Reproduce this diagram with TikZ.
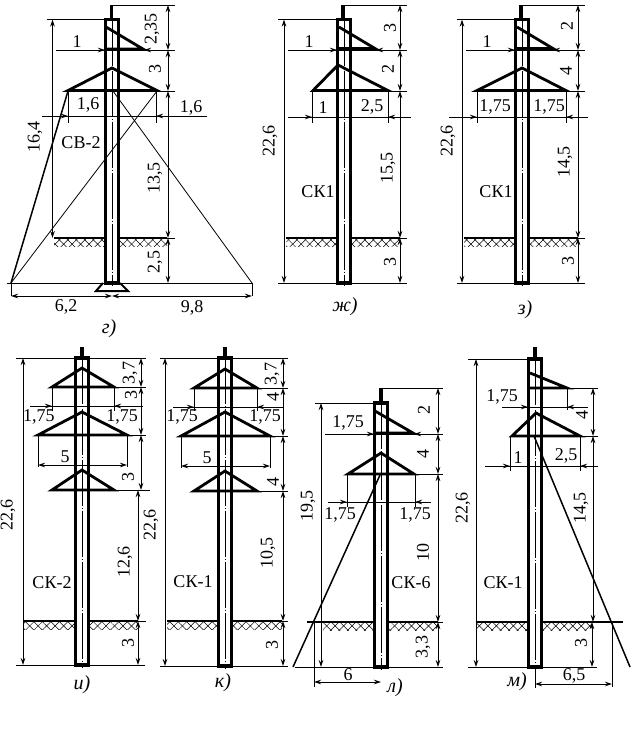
\documentclass[tikz,border=0pt]{standalone}
\usepackage{fontspec}
\setmainfont{Liberation Serif}
\usetikzlibrary{arrows.meta,patterns.meta}
\tikzset{
every picture/.style={
line width=.8pt
}}
\newcommand{\mast}[3]{
  \draw [body] ({#1-6.5},#2) rectangle ({#1+6.5},#3);
  \draw [axis] (#1,#2) -- (#1,{#3+3});
}
\newcommand{\hatch}[3]{
  \fill [pattern={Lines[angle=45,distance=6pt,line width=.5pt]}] (#1,#3) rectangle (#2,{#3+8});
  \fill [pattern={Lines[angle=-45,distance=6pt,line width=.5pt]}] (#1,#3) rectangle (#2,{#3+8});
}

\begin{document}
\begin{tikzpicture}[x=1pt, y=-1pt,
body/.style = {line width=3.2pt},
arm/.style = {line width=2.8pt, line join=miter},
gnd/.style = {line width=2pt},
guy/.style = {line width=1.5pt},
axis/.style = {line width=.5pt, dash pattern=on 46pt off 2pt on 1pt off 2pt},
dim/.style = {{Stealth[length=7pt,width=4.5pt]}-{Stealth[length=7pt,width=4.5pt]}},
tip/.style = {-{Stealth[length=7pt,width=4.5pt]}},
lab/.style = {inner sep=0pt, font=\fontsize{18}{20}\selectfont},
up/.style = {lab, rotate=90},
sign/.style = {lab, font=\fontsize{20}{22}\selectfont\itshape}]
\useasboundingbox (0,0) rectangle (637,732);

% g
\mast{112}{19.5}{283}
\draw [body] (111.5,19) -- (111.5,5);
\draw (111.5,5) -- (175,5);
\draw [arm] (106,27) -- (143,49) -- (105,49);
\draw [arm] (68,90.5) -- (112,68) -- (157,90.5) -- cycle;
\hatch{54}{105}{238}
\hatch{119}{167}{238}
\draw [gnd] (54,238) -- (105,238) (119,238) -- (167,238);
\draw (167,238) -- (175,238);
\draw [guy] (68,91) -- (11,283);
\draw (157,91) -- (11,283);
\draw (113,91) -- (252,283);
\draw (7,283) -- (252,283);
\draw [line width=2pt] (103,283) -- (96,291) -- (128,291) -- (120,283);
\draw (47,19.5) -- (105,19.5);
\draw (56,50) -- (175,50);
\draw (157,91) -- (175,91);
\draw (68,91) -- (68,123) (156,91) -- (156,123);
\draw (42,116) -- (207,116);
\draw (11,283) -- (11,296) (252,283) -- (252,296);
\foreach \a/\b in {5/50,50/91,91/238,238/283}
  \draw [dim] (168,\a) -- (168,\b);
\draw [dim] (52.5,19.5) -- (52.5,238);
\draw [dim] (11,296) -- (112,296);
\draw [dim] (112,296) -- (252,296);
\draw [tip] (93,50) -- (105,50);
\draw [tip] (156,50) -- (144,50);
\draw [tip] (55,116) -- (68,116);
\draw [tip] (170,116) -- (156,116);
\node [lab] at (77,42) (g1) {1};
\node [lab] at (88,105) (g2) {1,6};
\node [lab] at (191,108) (g3) {1,6};
\node [lab] at (81,143) (g4) {СВ-2};
\node [up] at (152,29) (g5) {2,35};
\node [up] at (155,69) (g6) {3};
\node [up] at (155,178) (g7) {13,5};
\node [up] at (155,262) (g8) {2,5};
\node [up] at (35,137) (g9) {16,4};
\node [lab] at (66,307) (g10) {6,2};
\node [lab] at (192,308) (g11) {9,8};
\node [sign] at (109,329) (g12) {г)};

% zh
\mast{344}{19.5}{283}
\draw [body] (343,19) -- (343,5);
\draw (343,5) -- (407,5);
\draw [arm] (339,27) -- (375,48.5) -- (337,48.5);
\draw [arm] (313,90.5) -- (338,65) -- (388,90.5) -- cycle;
\hatch{286}{337}{238}
\hatch{351}{400}{238}
\draw [gnd] (286,238) -- (337,238) (351,238) -- (400,238);
\draw (400,238) -- (407,238);
\draw (278,19.5) -- (337,19.5);
\draw (278,283) -- (407,283);
\draw (288,50) -- (407,50);
\draw (388,91) -- (407,91);
\draw (312,91) -- (312,123) (388,91) -- (388,123);
\draw (288,117) -- (411,117);
\foreach \a/\b in {5/50,50/91,91/238,238/283}
  \draw [dim] (400,\a) -- (400,\b);
\draw [dim] (284,19.5) -- (284,283);
\draw [tip] (325,50) -- (337,50);
\draw [tip] (388,50) -- (376,50);
\draw [tip] (300,117) -- (312,117);
\draw [tip] (402,117) -- (388,117);
\node [lab] at (309,42) (j1) {1};
\node [lab] at (323,108) (j2) {1};
\node [lab] at (372,107) (j3) {2,5};
\node [lab] at (318,192) (j4) {СК1};
\node [up] at (270,141) (j5) {22,6};
\node [up] at (390,28) (j6) {3};
\node [up] at (388,69) (j7) {2};
\node [up] at (388,168) (j8) {15,5};
\node [up] at (390,262) (j9) {3};
\node [sign] at (345,307) (j10) {ж)};

% z
\mast{522}{19.5}{283}
\draw [body] (521,19) -- (521,5);
\draw (521,5) -- (585,5);
\draw [arm] (517,27) -- (553,48.5) -- (515,48.5);
\draw [arm] (477,90.5) -- (522,68) -- (566,90.5) -- cycle;
\hatch{464}{515}{238}
\hatch{529}{578}{238}
\draw [gnd] (464,238) -- (515,238) (529,238) -- (578,238);
\draw (578,238) -- (585,238);
\draw (457,19.5) -- (515,19.5);
\draw (457,283) -- (585,283);
\draw (466,50) -- (585,50);
\draw (566,91) -- (585,91);
\draw (477,91) -- (477,123) (566,91) -- (566,123);
\draw (449,117) -- (588,117);
\foreach \a/\b in {5/50,50/91,91/238,238/283}
  \draw [dim] (578,\a) -- (578,\b);
\draw [dim] (462,19.5) -- (462,283);
\draw [tip] (503,50) -- (515,50);
\draw [tip] (565,50) -- (553,50);
\draw [tip] (465,117) -- (477,117);
\draw [tip] (579,117) -- (566,117);
\node [lab] at (487,42) (z1) {1};
\node [lab] at (495,107) (z2) {1,75};
\node [lab] at (549,107) (z3) {1,75};
\node [lab] at (496,192) (z4) {СК1};
\node [up] at (448,141) (z5) {22,6};
\node [up] at (567,26) (z6) {2};
\node [up] at (566,71) (z7) {4};
\node [up] at (565,162) (z8) {14,5};
\node [up] at (568,261) (z9) {3};
\node [sign] at (525,310) (z10) {з)};

% i
\mast{82}{358}{665}
\draw [body] (82,358) -- (82,347);
\draw [arm] (52,387) -- (82,368) -- (114,387) -- cycle;
\draw [arm] (38,435) -- (82,412) -- (127,435) -- cycle;
\draw [arm] (52,490) -- (82,470) -- (114,490) -- cycle;
\hatch{24}{75}{621}
\hatch{89}{138}{621}
\draw [gnd] (24,621) -- (75,621) (89,621) -- (138,621);
\draw (138,621) -- (146,621);
\draw (16,358) -- (146,358);
\draw (16,665) -- (145,665);
\draw (114,387) -- (146,387);
\draw (127,435) -- (146,435);
\draw (114,490) -- (150,490);
\draw (52,387) -- (52,411) (114,387) -- (114,411);
\draw (38,435) -- (38,467) (127,435) -- (127,467);
\draw (30,406) -- (143,406);
\foreach \a/\b in {358/387,387/435,435/490}
  \draw [dim] (141,\a) -- (141,\b);
\foreach \a/\b in {490/621,621/665}
  \draw [dim] (138,\a) -- (138,\b);
\draw [dim] (23,358) -- (23,665);
\draw [dim] (38,465) -- (127,465);
\draw [tip] (40,406) -- (52,406);
\draw [tip] (126,406) -- (114,406);
\node [lab] at (39,417) (i1) {1,75};
\node [lab] at (122,417) (i2) {1,75};
\node [lab] at (65,457) (i3) {5};
\node [up] at (130,373) (i4) {3,7};
\node [up] at (131,395) (i5) {3};
\node [up] at (128,477) (i6) {3};
\node [up] at (125,562) (i7) {12,6};
\node [up] at (128,643) (i8) {3};
\node [up] at (8,515) (i9) {22,6};
\node [lab] at (52,583) (i10) {СК-2};
\node [sign] at (82,685) (i11) {и)};

% k
\mast{225}{358}{666}
\draw [body] (225,358) -- (225,347);
\draw [arm] (194,388) -- (225,369) -- (257,388) -- cycle;
\draw [arm] (181,436) -- (225,412) -- (270,436) -- cycle;
\draw [arm] (194,491) -- (225,471) -- (257,491) -- cycle;
\hatch{167}{218}{621}
\hatch{232}{282}{621}
\draw [gnd] (167,621) -- (218,621) (232,621) -- (282,621);
\draw (282,621) -- (288,621);
\draw (160,358) -- (288,358);
\draw (160,666) -- (288,666);
\draw (257,388) -- (288,388);
\draw (270,436) -- (288,436);
\draw (257,491) -- (288,491);
\draw (194,388) -- (194,411) (257,388) -- (257,411);
\draw (181,436) -- (181,468) (270,436) -- (270,468);
\draw (173,407) -- (283,407);
\foreach \a/\b in {358/388,388/436,436/491,491/621,621/666}
  \draw [dim] (283,\a) -- (283,\b);
\draw [dim] (165,358) -- (165,666);
\draw [dim] (181,466) -- (270,466);
\draw [tip] (182,407) -- (194,407);
\draw [tip] (269,407) -- (257,407);
\node [lab] at (182,417) (k1) {1,75};
\node [lab] at (265,417) (k2) {1,75};
\node [lab] at (207,458) (k3) {5};
\node [up] at (272,374) (k4) {3,7};
\node [up] at (273,397) (k5) {4};
\node [up] at (273,482) (k6) {4};
\node [up] at (268,553) (k7) {10,5};
\node [up] at (272,645) (k8) {3};
\node [up] at (151,525) (k9) {22,6};
\node [lab] at (193,582) (k10) {СК-1};
\node [sign] at (223,683) (k11) {к)};

% l
\mast{381}{403}{667}
\draw [body] (381,403) -- (381,388);
\draw (381,388) -- (443,388);
\draw [arm] (375,411) -- (413,433) -- (374,433);
\draw [arm] (348,474) -- (381,453) -- (414,474) -- cycle;
\hatch{323}{374}{622}
\hatch{388}{438}{622}
\draw [gnd] (307,622) -- (374,622) (388,622) -- (438,622);
\draw (438,622) -- (443,622);
\draw [guy] (380,475) -- (293,667);
\draw (315,403) -- (374,403);
\draw (295,667) -- (443,667);
\draw (325,434) -- (443,434);
\draw (414,474) -- (443,474);
\draw (347,474) -- (347,507) (415,474) -- (415,507);
\draw (328,502) -- (431,502);
\draw (314,622) -- (314,687);
\foreach \a/\b in {388/434,434/474,474/622,622/667}
  \draw [dim] (438,\a) -- (438,\b);
\draw [dim] (321,403) -- (321,667);
\draw [dim] (314,682) -- (381,682);
\draw [tip] (362,434) -- (374,434);
\draw [tip] (426,434) -- (414,434);
\draw [tip] (335,502) -- (347,502);
\draw [tip] (427,502) -- (415,502);
\node [lab] at (348,423) (l1) {1,75};
\node [lab] at (340,515) (l2) {1,75};
\node [lab] at (415,515) (l3) {1,75};
\node [lab] at (348,675) (l4) {6};
\node [up] at (424,410) (l5) {2};
\node [up] at (423,454) (l6) {4};
\node [up] at (423,552) (l7) {10};
\node [up] at (423,647) (l8) {3,3};
\node [up] at (308,506) (l9) {19,5};
\node [lab] at (411,583) (l10) {СК-6};
\node [sign] at (395,688) (l11) {л)};

% m
\mast{535}{359}{667}
\draw [body] (535,359) -- (535,347);
\draw [arm] (530,373) -- (567,388) -- (528,388);
\draw [arm] (512,436) -- (536,413) -- (580,436) -- cycle;
\hatch{477}{528}{622}
\hatch{542}{592}{622}
\draw [gnd] (477,622) -- (528,622) (542,622) -- (623,622);
\draw [guy] (534,436) -- (630,667);
\draw (468,359) -- (528,359);
\draw (468,667) -- (597,667);
\draw (567,388) -- (598,388);
\draw (580,436) -- (598,436);
\draw (567,388) -- (567,410);
\draw (510,436) -- (510,471) (580,436) -- (580,471);
\draw (502,407) -- (588,407);
\draw (485,466) -- (598,466);
\draw (612,622) -- (612,687);
\draw (535,667) -- (535,688);
\foreach \a/\b in {388/436,436/622}
  \draw [dim] (593,\a) -- (593,\b);
\draw [dim] (592,622) -- (592,667);
\draw [dim] (476,359) -- (476,667);
\draw [dim] (535,684) -- (612,684);
\draw [tip] (516,407) -- (528,407);
\draw [tip] (579,407) -- (567,407);
\draw [tip] (498,466) -- (510,466);
\draw [tip] (592,466) -- (580,466);
\node [lab] at (502,397) (m1) {1,75};
\node [lab] at (518,458) (m2) {1};
\node [lab] at (566,456) (m3) {2,5};
\node [lab] at (574,676) (m4) {6,5};
\node [up] at (582,415) (m5) {4};
\node [up] at (581,508) (m6) {14,5};
\node [up] at (581,643) (m7) {3};
\node [up] at (463,508) (m8) {22,6};
\node [lab] at (503,583) (m9) {СК-1};
\node [sign] at (517,682) (m10) {м)};

\end{tikzpicture}
\end{document}
